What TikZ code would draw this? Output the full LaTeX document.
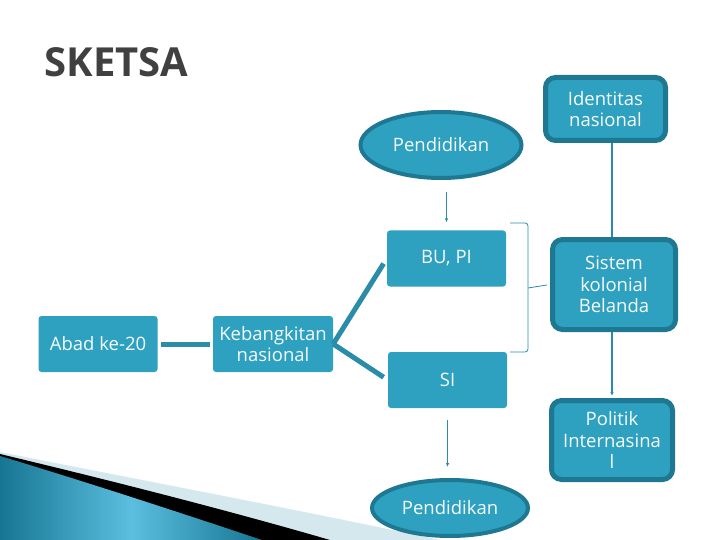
\documentclass[tikz,border=0pt]{standalone}
\usepackage{fontspec}
\setmainfont{Open Sans}
\usetikzlibrary{arrows.meta, shapes.geometric}
\definecolor{boxteal}{RGB}{46,160,192}
\definecolor{rimteal}{RGB}{30,120,146}
\definecolor{linkteal}{RGB}{42,140,168}
\definecolor{titlegray}{RGB}{64,64,64}
\definecolor{swooshpale}{RGB}{213,232,238}
\definecolor{swooshdark}{RGB}{22,118,146}
\definecolor{swooshlight}{RGB}{92,190,224}

\begin{document}
\begin{tikzpicture}[x=1pt, y=-1pt,
  txt/.style={font=\fontsize{18.5}{21.5}\selectfont, text=white!96!boxteal, align=center, inner sep=0pt},
  flatbox/.style={txt, fill=boxteal, rounded corners=3pt, minimum width=119pt, minimum height=56pt},
  rimbox/.style={txt, fill=boxteal, draw=rimteal, line width=5pt, rounded corners=10pt},
  oval/.style={txt, ellipse, fill=boxteal, draw=rimteal, line width=4pt},
  link/.style={linkteal, line width=1.2pt},
  arrowlink/.style={link, -{Latex[length=4pt, width=3.5pt]}},
  heavy/.style={linkteal, line width=5pt},
  bracket/.style={linkteal, line width=0.8pt}
]
\useasboundingbox (0,0) rectangle (720,540);

\fill[swooshpale] (0,452) .. controls (120,476) and (300,510) .. (440,540) -- (0,540) -- cycle;
\fill[black] (0,454) .. controls (100,478) and (220,508) .. (330,540) -- (0,540) -- cycle;
\shade[left color=swooshdark, right color=swooshdark, middle color=swooshlight]
  (0,456) .. controls (90,483) and (190,516) .. (262,540) -- (0,540) -- cycle;

\node[font=\fontsize{40}{40}\selectfont\bfseries, text=titlegray, anchor=base west] (title) at (41,77) {SKETSA};

\node[oval, minimum width=161pt, minimum height=66pt] (pendA) at (441,145) {Pendidikan};
\node[rimbox, minimum width=120pt, minimum height=63pt] (identitas) at (605.5,109) {Identitas\\nasional};
\node[flatbox] (bupi) at (446.5,258.5) {BU, PI};
\node[rimbox, minimum width=123pt, minimum height=90pt] (sistem) at (614,284.5) {Sistem\\kolonial\\Belanda};
\node[flatbox] (abad) at (98,344) {Abad ke-20};
\node[flatbox, minimum width=120pt] (kebangkitan) at (273,344) {Kebangkitan\\nasional};
\node[flatbox] (si) at (447.5,380) {SI};
\node[rimbox, minimum width=121pt, minimum height=79pt] (politik) at (612,440) {Politik\\Internasina\\l};
\node[oval, minimum width=156pt, minimum height=56pt] (pendB) at (450,508) {Pendidikan};

\draw[arrowlink, shorten <=12pt, shorten >=8pt] (pendA.south -| bupi.north) -- (bupi.north);
\draw[link] (identitas.south -| 612,0) -- (sistem.north -| 612,0);
\draw[arrowlink, shorten >=2pt] (sistem.south -| 612,0) -- (politik.north -| 612,0);
\draw[arrowlink, shorten <=12pt, shorten >=11pt] (si.south) -- (pendB.north -| si.south);

\draw[heavy, shorten <=3pt, shorten >=3pt] (abad.east) -- (kebangkitan.east -| kebangkitan.west);
\draw[heavy, shorten >=6pt] (kebangkitan.east) -- (bupi.west);
\draw[heavy, shorten >=5pt] (kebangkitan.east) -- (si.west);

\coordinate (bracetop) at (510,223);
\coordinate (bracemid) at (528,288);
\coordinate (bracebot) at (510,352);
\draw[bracket, rounded corners=3pt] (bracetop) -- (bracetop -| bracemid) -- (bracebot -| bracemid) -- (bracebot);
\draw[bracket, shorten >=3pt] (bracemid) -- (sistem.west);
\end{tikzpicture}
\end{document}
